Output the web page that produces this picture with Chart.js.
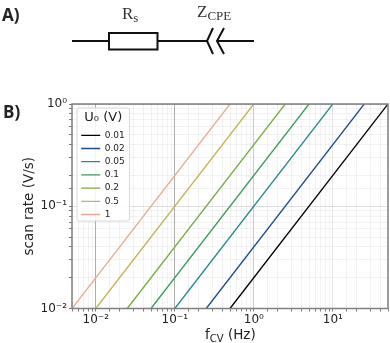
<!DOCTYPE html>
<html><head><meta charset="utf-8">
<script src="https://cdn.jsdelivr.net/npm/chart.js@4"></script>
<style>
html,body{margin:0;padding:0;background:#fff;}
#wrap{position:relative;width:390px;height:343px;overflow:hidden;}
canvas{position:absolute;left:0;top:0;}
svg{position:absolute;left:0;top:0;}
.t{position:absolute;white-space:nowrap;line-height:1;color:#111;}
.p{font:bold 17px "Open Sans",sans-serif;color:#222;}
.s{font:17px "Liberation Serif",serif;color:#333;}
.s sub{font-size:13px;vertical-align:baseline;position:relative;top:3px;}
.x{font:13.5px "DejaVu Sans",sans-serif;color:#222;}
.x sub{font-size:10px;vertical-align:baseline;position:relative;top:3px;}
</style></head><body>
<div id="wrap">
<canvas id="c" width="390" height="343"></canvas>
<svg width="390" height="70" viewBox="0 0 390 70" fill="none" stroke="#111" stroke-width="2">
<path d="M72 41H108.5M157.5 41H207M217 41H254"/>
<rect x="109" y="33" width="48.5" height="16.5"/>
<path d="M213 28L207 41L213 54M224 28L217 41L224 54"/>
</svg>
<div class="t p" style="left:2px;top:3px">A)</div>
<div class="t p" style="left:3px;top:100px">B)</div>
<div class="t s" style="left:122px;top:4px">R<sub>s</sub></div>
<div class="t s" style="left:197px;top:2px">Z<sub>CPE</sub></div>
<div class="t x" style="left:205px;top:326px">f<sub>CV</sub> (Hz)</div>
</div>
<script>
const u0Labels=['0.01','0.02','0.05','0.1','0.2','0.5','1'];
const freqAtLow=[0.5,0.25,0.1,0.05,0.025,0.01,0.005];
const freqAtHigh=[50,25,10,5,2.5,1,0.5];
const rateEnds=[0.01,1];
const colors=['#000000','#1f4e8c','#2a8a8a','#3b9a5e','#7aab45','#c2b357','#e3ae8f'];
const xLims=[0.005,50];
const yLims=[0.01,1];
const sup={'-':'\u207B','0':'\u2070','1':'\u00B9','2':'\u00B2'};
function tickLabel(v){
  const l=Math.log10(v), r=Math.round(l);
  if(Math.abs(l-r)>1e-6) return '';
  return '10'+String(r).split('').map(c=>sup[c]).join('');
}
function gridColor(strongList,light){
  return ctx=>{
    const v=ctx.tick&&ctx.tick.value; if(v==null) return light;
    const l=Math.log10(v), r=Math.round(l);
    if(Math.abs(l-r)>1e-6) return light;
    return strongList[r]||'rgba(0,0,0,0.1)';
  };
}
const frame={
  id:'frame',
  afterLayout(chart){
    const a=chart.chartArea, L=chart.legend;
    L.left=a.left+5; L.top=a.top+4; L.right=L.left+52.5; L.bottom=a.bottom;
    L.width=52.5; L.height=a.bottom-a.top;
    if(!L._wrapped){
      const d=L.draw;
      L.draw=function(){
        const c=chart.ctx; c.save();
        c.beginPath(); c.roundRect(L.left,L.top,52.5,113,2);
        c.fillStyle='rgba(255,255,255,0.85)'; c.fill();
        c.strokeStyle='#d8d8d8'; c.lineWidth=1; c.stroke(); c.restore();
        d.call(L);
      };
      L._wrapped=true;
    }
  },
  afterDraw(chart){
    const a=chart.chartArea,c=chart.ctx;
    c.save(); c.strokeStyle='#7f7f7f'; c.lineWidth=1.5;
    c.strokeRect(a.left,a.top,a.right-a.left,a.bottom-a.top); c.restore();
  }
};
new Chart(document.getElementById('c'),{
  type:'line',
  data:{datasets:u0Labels.map((lab,i)=>({
    label:lab,
    data:[{x:freqAtLow[i],y:rateEnds[0]},{x:freqAtHigh[i],y:rateEnds[1]}],
    borderColor:colors[i],backgroundColor:colors[i],borderWidth:1.3,pointRadius:0,tension:0,pointStyle:'line'
  }))},
  plugins:[frame],
  options:{
    responsive:false,animation:false,
    layout:{padding:{top:104,right:2,left:0,bottom:0}},
    plugins:{
      tooltip:{enabled:false},
      legend:{position:'chartArea',align:'start',
        title:{display:true,text:'U\u2080 (V)',color:'#222',font:{family:'DejaVu Sans',size:13},padding:{top:3,bottom:0}},
        labels:{usePointStyle:true,pointStyle:'line',pointStyleWidth:19,boxHeight:9,padding:4.2,color:'#222',font:{family:'DejaVu Sans',size:9}}
      }
    },
    scales:{
      x:{type:'logarithmic',min:xLims[0],max:xLims[1],
        afterFit(s){s.height=34.5;},
        border:{display:false},
        grid:{color:gridColor({'-2':'rgba(0,0,0,0.32)','-1':'rgba(0,0,0,0.32)','0':'rgba(0,0,0,0.2)','1':'rgba(0,0,0,0.1)'},'rgba(0,0,0,0.05)'),tickColor:'#7f7f7f',tickLength:3,lineWidth:1},
        ticks:{autoSkip:false,maxRotation:0,minRotation:0,padding:1,color:'#222',font:{family:'DejaVu Sans',size:12},callback:tickLabel}
      },
      y:{type:'logarithmic',min:yLims[0],max:yLims[1],
        afterFit(s){s.width=72;},
        border:{display:false},
        title:{display:true,text:'scan rate (V/s)',color:'#222',font:{family:'DejaVu Sans',size:13.5},padding:{top:21,bottom:0}},
        grid:{color:gridColor({'-2':'rgba(0,0,0,0.2)','-1':'rgba(0,0,0,0.12)','0':'rgba(0,0,0,0.2)'},'rgba(0,0,0,0.05)'),tickColor:'#7f7f7f',tickLength:3,lineWidth:1},
        ticks:{autoSkip:false,padding:2,color:'#222',font:{family:'DejaVu Sans',size:12},callback:tickLabel}
      }
    }
  }
});
</script>
</body></html>
